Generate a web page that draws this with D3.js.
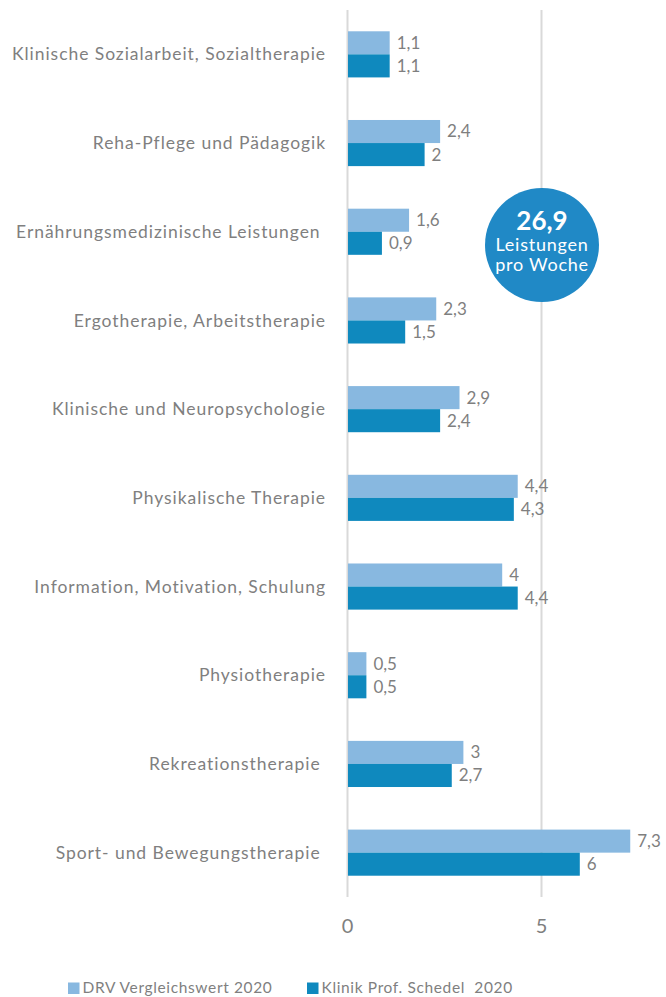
<!DOCTYPE html>
<html>
<head>
<meta charset="utf-8">
<script src="https://cdn.jsdelivr.net/npm/d3@7"></script>
<style>
  body { margin: 0; background: #fff; }
  svg { display: block; font-family: Lato, "Open Sans", sans-serif; }
  text { white-space: pre; }
</style>
</head>
<body>
<div id="chart"></div>
<script>
'use strict';

// categories, top to bottom
const categories = [
    "Klinische Sozialarbeit, Sozialtherapie",
    "Reha-Pflege und Pädagogik",
    "Ernährungsmedizinische Leistungen ",
    "Ergotherapie, Arbeitstherapie",
    "Klinische und Neuropsychologie",
    "Physikalische Therapie",
    "Information, Motivation, Schulung",
    "Physiotherapie",
    "Rekreationstherapie ",
    "Sport- und Bewegungstherapie "
];
const drvValues = [1.1, 2.4, 1.6, 2.3, 2.9, 4.4, 4, 0.5, 3, 7.3];
const klinikValues = [1.1, 2, 0.9, 1.5, 2.4, 4.3, 4.4, 0.5, 2.7, 6];
const seriesNames = ["DRV Vergleichswert 2020", "Klinik Prof. Schedel  2020"];
const xTicks = [0, 5];
const totalLabel = ["26,9", "Leistungen", "pro Woche"];

var width = 666,
    height = 997,
    plotTop = 10,
    plotBottom = 897,
    colors = ["#88b8e0", "#0f89be"],
    textColor = "#7f7f7f",
    fmt = function (v) { return String(v).replace(".", ","); };

var svg = d3.select("#chart").append("svg")
    .attr("width", width)
    .attr("height", height);

// the reference uses Calibri; widen the substitute with letter-spacing
// so that one known string gets the width it has in the picture
function spacingFor (size, weight, str, target) {
    var t = svg.append("text")
        .style("font-size", size + "px")
        .style("font-weight", weight)
        .text(str);
    var w = t.node().getComputedTextLength();
    t.remove();
    return Math.max(0, (target - w) / str.length);
}

var x = d3.scaleLinear().domain([0, 5]).range([347, 541]);

var y = d3.scaleBand()
    .domain(categories)
    .range([plotTop, plotBottom])
    .paddingInner(0.48)
    .paddingOuter(0.24);

var sub = d3.scaleBand()
    .domain([0, 1])
    .range([0, y.bandwidth()]);

// gridlines
var grid = svg.append("g")
    .attr("transform", "translate(0," + plotBottom + ")")
    .call(d3.axisBottom(x).tickValues(xTicks).tickSize(-(plotBottom - plotTop)).tickFormat(""));
grid.select(".domain").remove();
grid.selectAll("line").attr("stroke", "#d9d9d9").attr("stroke-width", 2);

// tick labels
var axis = svg.append("g")
    .attr("transform", "translate(0," + plotBottom + ")")
    .call(d3.axisBottom(x).tickValues(xTicks).tickSize(0).tickPadding(22).tickFormat(fmt));
axis.select(".domain").remove();
axis.selectAll("text")
    .attr("fill", textColor)
    .style("font-size", "20px")
    .style("font-family", "Lato, 'Open Sans', sans-serif");

// category labels
var catSpacing = spacingFor(17.5, "normal", categories[0], 314);
svg.append("g").selectAll("text")
    .data(categories)
    .join("text")
    .attr("x", 326)
    .attr("y", function (d) { return y(d) + y.bandwidth() / 2; })
    .attr("dy", "0.35em")
    .attr("text-anchor", "end")
    .attr("fill", textColor)
    .style("font-size", "17.5px")
    .style("letter-spacing", catSpacing + "px")
    .text(function (d) { return d; });

// bars
var rows = categories.map(function (c, i) {
    return { cat: c, values: [drvValues[i], klinikValues[i]] };
});

var groups = svg.append("g").selectAll("g")
    .data(rows)
    .join("g")
    .attr("transform", function (d) { return "translate(0," + y(d.cat) + ")"; });

groups.selectAll("rect")
    .data(function (d) { return d.values; })
    .join("rect")
    .attr("x", x(0) + 1)
    .attr("y", function (d, i) { return sub(i); })
    .attr("width", function (d) { return x(d) - x(0) - 1; })
    .attr("height", sub.bandwidth())
    .attr("fill", function (d, i) { return colors[i]; });

groups.selectAll("text")
    .data(function (d) { return d.values; })
    .join("text")
    .attr("x", function (d) { return x(d) + 7; })
    .attr("y", function (d, i) { return sub(i) + sub.bandwidth() / 2; })
    .attr("dy", "0.35em")
    .attr("fill", textColor)
    .style("font-size", "17px")
    .text(fmt);

// total badge
var badge = svg.append("g").attr("transform", "translate(542,245)");
badge.append("circle").attr("r", 57).attr("fill", "#2089c6");
var badgeSpacing = spacingFor(18, "normal", totalLabel[1], 93);
badge.selectAll("text")
    .data(totalLabel)
    .join("text")
    .attr("text-anchor", "middle")
    .attr("y", function (d, i) { return [-24, 0, 20][i]; })
    .attr("dy", "0.35em")
    .attr("fill", "#fff")
    .style("font-size", function (d, i) { return i === 0 ? "26px" : "18px"; })
    .style("font-weight", function (d, i) { return i === 0 ? "bold" : "normal"; })
    .style("letter-spacing", function (d, i) { return i === 0 ? "0px" : badgeSpacing + "px"; })
    .text(function (d) { return d; });

// legend
var legendSpacing = spacingFor(15.5, "normal", seriesNames[0], 190);
var legend = svg.append("g").selectAll("g")
    .data(seriesNames)
    .join("g")
    .attr("transform", function (d, i) { return "translate(" + [68, 307][i] + ",988)"; });

legend.append("rect")
    .attr("x", 0)
    .attr("y", -5.5)
    .attr("width", 11.5)
    .attr("height", 11.5)
    .attr("fill", function (d, i) { return colors[i]; });

legend.append("text")
    .attr("x", 14.5)
    .attr("dy", "0.35em")
    .attr("fill", textColor)
    .style("font-size", "15.5px")
    .style("letter-spacing", legendSpacing + "px")
    .text(function (d) { return d; });
</script>
</body>
</html>
